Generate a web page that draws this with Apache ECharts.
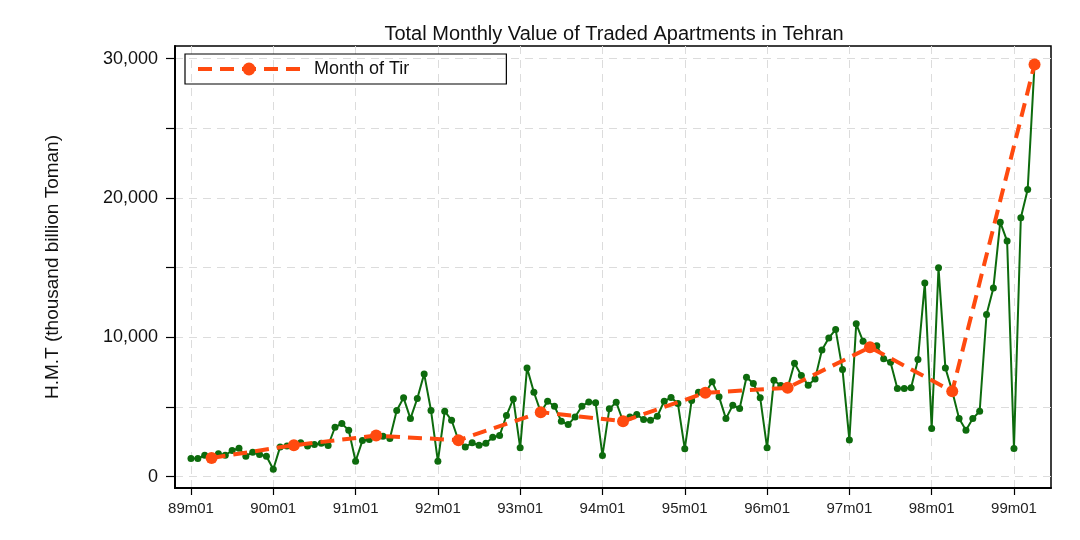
<!DOCTYPE html>
<html>
<head>
<meta charset="utf-8">
<script src="https://cdn.jsdelivr.net/npm/echarts@6/dist/echarts.min.js"></script>
<style>html,body{margin:0;padding:0;background:#fff;}#c{width:1080px;height:540px;}</style>
</head>
<body>
<div id="c"></div>
<script>
// Monthly total value (thousand billion Toman), 89m01 .. 99m04
const monthlyValues = [
 1290,1290,1530,1340,1630,1530,1870,2030,1460,1750,1580,1460,
 530,2130,2200,2250,2420,2200,2300,2390,2230,3540,3800,3330,
 1100,2580,2660,2940,2900,2730,4740,5650,4160,5600,7370,4740,
 1100,4690,4040,2610,2130,2420,2250,2390,2820,2940,4380,5570,
 2060,7800,6050,4620,5410,5050,3970,3730,4280,5050,5360,5290,
 1510,4860,5340,3970,4280,4450,4090,4040,4330,5410,5670,5240,
 1990,5460,6050,6010,6800,5720,4160,5120,4880,7130,6680,5650,
 2060,6910,6530,6370,8130,7250,6550,7010,9090,9950,10550,7680,
 2630,10960,9710,9280,9380,8450,8210,6320,6320,6370,8400,13900,
 3450,14980,7800,6120,4160,3330,4160,4690,11630,13540,18260,16900,
 2010,18570,20600,29580
];
const tirMonth = 4;
const xTickLabels = ['89m01','90m01','91m01','92m01','93m01','94m01','95m01','96m01','97m01','98m01','99m01'];
const yTickValues = [0,5000,10000,15000,20000,25000,30000];
const yLabelValues = [0,10000,20000,30000];

const monthlyData = monthlyValues.map((v,i)=>[i,v]);
const tirData = monthlyData.filter(d => (d[0] % 12) + 1 === tirMonth);
const xTickValues = xTickLabels.map((s,k)=>k*12);

const ORANGE = '#ff4a0f';
const GREEN = '#0d6b0d';
const FONT = 'Liberation Sans';

const chart = echarts.init(document.getElementById('c'));
chart.setOption({
  animation:false,
  backgroundColor:'#fff',
  title:{text:'Total Monthly Value of Traded Apartments in Tehran',left:609,top:19,textAlign:'center',
    textStyle:{fontFamily:FONT,fontSize:20,fontWeight:'normal',color:'#111'}},
  legend:{left:185,top:54,orient:'horizontal',data:['Month of Tir'],
    borderColor:'#000',borderWidth:1.2,borderRadius:0,padding:[6,97,6,11],
    itemWidth:102,itemHeight:16,itemGap:10,
    lineStyle:{width:4,type:[14,8]},
    textStyle:{fontFamily:FONT,fontSize:18,color:'#111',padding:[0,0,0,9]}},
  grid:{left:175,right:29,top:46,bottom:52,show:true,borderColor:'#000',borderWidth:1.5,containLabel:false},
  xAxis:{type:'value',min:-2.33,max:125.4,
    axisLine:{show:true,onZero:false,lineStyle:{color:'#000',width:2}},
    axisTick:{show:true,length:7,lineStyle:{color:'#000',width:1.2},customValues:xTickValues},
    axisLabel:{customValues:xTickValues,margin:13,fontFamily:FONT,fontSize:15,color:'#222',
      formatter:v=>xTickLabels[Math.round(v/12)]},
    splitLine:{show:true,lineStyle:{color:'#dcdcdc',type:[8,6],width:1}}},
  yAxis:{type:'value',min:-820,max:30900,
    name:'H.M.T (thousand billion Toman)',nameLocation:'middle',nameGap:113,nameRotate:90,
    nameTextStyle:{fontFamily:FONT,fontSize:19,color:'#111'},
    axisLine:{show:true,onZero:false,lineStyle:{color:'#000',width:2}},
    axisTick:{show:true,length:9,lineStyle:{color:'#000',width:1.2},customValues:yTickValues},
    axisLabel:{customValues:yLabelValues,margin:17,fontFamily:FONT,fontSize:18,color:'#111',
      formatter:v=>v.toLocaleString('en-US')},
    splitLine:{show:true,lineStyle:{color:'#dcdcdc',type:[8,6],width:1}}},
  series:[
    {name:'Monthly',type:'line',data:monthlyData,symbol:'circle',symbolSize:7,
      itemStyle:{color:GREEN},lineStyle:{color:GREEN,width:2},z:2},
    {name:'Month of Tir',type:'line',data:tirData,symbol:'circle',symbolSize:12,
      itemStyle:{color:ORANGE},lineStyle:{color:ORANGE,width:4,type:[14,8]},z:3}
  ]
});
</script>
</body>
</html>
